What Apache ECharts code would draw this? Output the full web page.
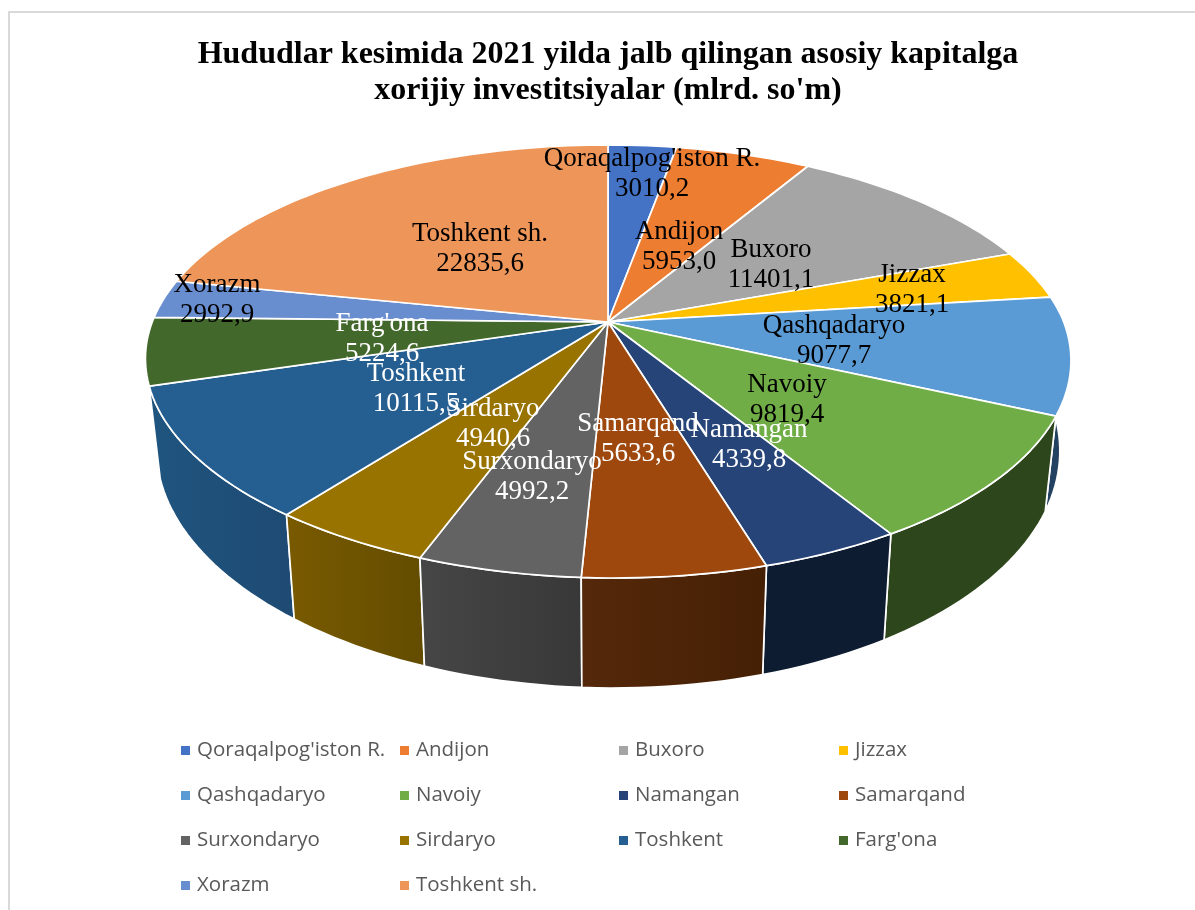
<!DOCTYPE html>
<html>
<head>
<meta charset="utf-8">
<style>html,body{margin:0;padding:0;background:#fff}#c{width:1195px;height:910px}</style>
<script src="https://cdn.jsdelivr.net/npm/echarts@6/dist/echarts.min.js"></script>
</head>
<body>
<div id="c"></div>
<script>
const regions = ["Qoraqalpog'iston R.","Andijon","Buxoro","Jizzax","Qashqadaryo","Navoiy","Namangan","Samarqand","Surxondaryo","Sirdaryo","Toshkent","Farg'ona","Xorazm","Toshkent sh."];
const investments = [3010.2,5953.0,11401.1,3821.1,9077.7,9819.4,4339.8,5633.6,4992.2,4940.6,10115.5,5224.6,2992.9,22835.6];
const titleText = "Hududlar kesimida 2021 yilda jalb qilingan asosiy kapitalga\nxorijiy investitsiyalar (mlrd. so'm)";

const topColors = ['#4472C4','#ED7D31','#A5A5A5','#FFC000','#5B9BD5','#70AD47','#264478','#9E480E','#636363','#997300','#255E91','#43682B','#698ED0','#EE9659'];
const sideStart = ['#223962','#773e18','#525252','#806000','#234160','#2d461c','#0e1c32','#55280a','#464646','#795a00','#1f557f','#2a411b','#34476a','#794b2d'];
const sideEnd   = ['#223962','#773e18','#525252','#806000','#234160','#2d461c','#0e1c32','#452005','#383838','#634c00','#1e4a73','#2a411b','#34476a','#794b2d'];
const labelColors = ['#000','#000','#000','#000','#000','#000','#fff','#fff','#fff','#fff','#fff','#fff','#000','#000'];
const labelAnchors = [[652,174],[679,247],[771,265],[912,290],[834,341],[787,400],[749,445],[638,439],[532,477],[493,424],[416,389],[382,339],[217,300],[480,249]];
const legendCols = [181,400,619,839];
const legendRows = [740,785,830,875];

// Pie geometry (perspective view of a disc)
const view = {cx:608, cy:322, a:455, b:209.3, p:0.1824, bx:0.976, by:1.09, bcy:409, shearFront:6, shearBack:6, midLift:2};
const total = investments.reduce((s,v)=>s+v,0);
function project(frac, bottom){
  const t = frac*2*Math.PI, X = Math.sin(t), Y = Math.cos(t), s = 1/(1+view.p*Y);
  const front = Math.max(0,-Y);
  const shear = view.shearFront*front*front - view.shearBack*Math.max(0,Y)*Math.max(0,X);
  const dx = view.a*X*s + shear, dy = -view.b*Y*s - view.midLift*X*X;
  return bottom ? [view.cx+dx*view.bx, view.bcy+dy*view.by] : [view.cx+dx, view.cy+dy];
}
function arc(f0, f1, bottom){
  const n = Math.max(2, Math.ceil((f1-f0)*360/1.5)), pts = [];
  for(let i=0;i<=n;i++) pts.push(project(f0+(f1-f0)*i/n, bottom));
  return pts;
}
let acc = 0;
const spans = investments.map((v,i)=>{const r=[acc/total,(acc+v)/total,i]; acc+=v; return r;});
const sideOrder = spans.slice().sort((p,q)=>Math.cos((p[0]+p[1])*Math.PI)<Math.cos((q[0]+q[1])*Math.PI)?1:-1);

const stroke = {stroke:'#fff', lineWidth:1.7, lineJoin:'round'};

const series = [{
  type:'custom', name:'__sides', coordinateSystem:'none', silent:true, z:1, animation:false,
  data: sideOrder,
  renderItem(params, api){
    const f0=api.value(0), f1=api.value(1), i=api.value(2);
    const pts = arc(f0,f1,false).concat(arc(f0,f1,true).reverse());
    return {type:'polygon', shape:{points:pts}, style:Object.assign({
      fill:new echarts.graphic.LinearGradient(0,0,1,0,[{offset:0,color:sideStart[i]},{offset:1,color:sideEnd[i]}])
    },stroke)};
  }
}];
regions.forEach((name,i)=>{
  series.push({
    type:'custom', name, coordinateSystem:'none', silent:true, z:2, animation:false,
    itemStyle:{color:topColors[i]},
    data:[spans[i]],
    renderItem(params, api){
      const pts = [[view.cx,view.cy]].concat(arc(api.value(0),api.value(1),false));
      return {type:'polygon', shape:{points:pts}, style:Object.assign({fill:topColors[i]},stroke)};
    }
  });
});
series.push({
  type:'custom', name:'__labels', coordinateSystem:'none', silent:true, z:3, animation:false,
  data: investments.map((v,i)=>[i,v]),
  renderItem(params, api){
    const i = api.value(0);
    const txt = regions[i]+'\n'+api.value(1).toFixed(1).replace('.',',');
    return {type:'text', x:labelAnchors[i][0], y:labelAnchors[i][1], style:{
      text:txt, fill:labelColors[i], fontFamily:'Liberation Serif', fontSize:27, lineHeight:30,
      align:'center', verticalAlign:'middle'}};
  }
});

const legends = regions.map((name,i)=>({
  left:legendCols[i%4], top:legendRows[Math.floor(i/4)], padding:0, itemWidth:9, itemHeight:9, selectedMode:false,
  icon:'rect', data:[name],
  textStyle:{color:'#595959', fontFamily:'Open Sans', fontSize:20.5, padding:[0,0,0,2]}
}));

const chart = echarts.init(document.getElementById('c'), null, {renderer:'canvas'});
chart.setOption({
  animation:false,
  backgroundColor:'#fff',
  title:{text:titleText, left:603, top:32, textAlign:'center',
    textStyle:{fontFamily:'Liberation Serif', fontWeight:'bold', fontSize:32, lineHeight:36, color:'#000'}},
  legend:legends,
  graphic:[{type:'rect', shape:{x:9,y:12,width:1300,height:1000}, style:{fill:'none',stroke:'#d9d9d9',lineWidth:2}, silent:true, z:-1}],
  series
});
</script>
</body>
</html>
